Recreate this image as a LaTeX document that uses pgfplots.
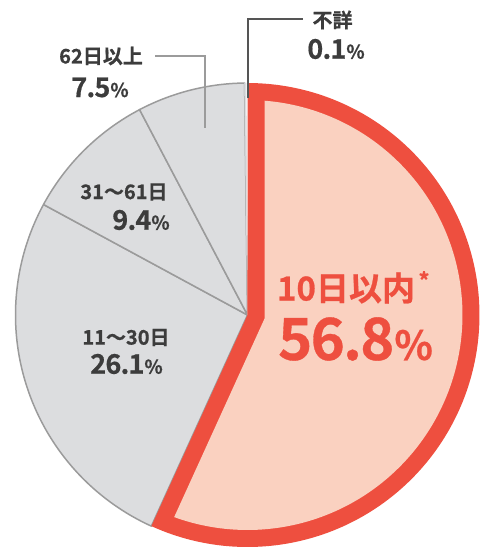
\documentclass[border=0pt]{standalone}
\usepackage{pgfplots}
\pgfplotsset{compat=1.18}
\usepackage{pgfplotstable}
\usepgfplotslibrary{polar}
\usepackage{fontspec}
\setmainfont{Noto Sans CJK JP}
\newfontfamily\jpb{Noto Sans CJK JP Bold}[FakeBold=0.7]
\newfontfamily\numfont{Noto Sans CJK JP Bold}[LetterSpace=-3,FakeBold=0.6]
\definecolor{redc}{HTML}{EE4F3F}
\definecolor{pinkc}{HTML}{FAD1C0}
\definecolor{grayf}{HTML}{DCDDDF}
\definecolor{grayl}{HTML}{9B9B9B}
\definecolor{txt}{HTML}{3C3C3C}
\definecolor{lead}{HTML}{555555}
\pgfplotstableread{
cat value
d10 56.8
d30 26.1
d61 9.4
d62 7.5
unk 0.1
}\pietable
\begin{document}
\begin{tikzpicture}
\useasboundingbox (0,0) rectangle (481pt,552pt);
\pgfplotstablegetelem{0}{value}\of\pietable\pgfmathsetmacro{\vA}{\pgfplotsretval}
\pgfplotstablegetelem{1}{value}\of\pietable\pgfmathsetmacro{\vB}{\pgfplotsretval}
\pgfplotstablegetelem{2}{value}\of\pietable\pgfmathsetmacro{\vC}{\pgfplotsretval}
\pgfplotstablegetelem{3}{value}\of\pietable\pgfmathsetmacro{\vD}{\pgfplotsretval}
\pgfplotstablegetelem{4}{value}\of\pietable\pgfmathsetmacro{\vE}{\pgfplotsretval}
\pgfmathsetmacro{\aA}{90}
\pgfmathsetmacro{\aB}{\aA-3.6*\vA}
\pgfmathsetmacro{\aC}{\aB-3.6*\vB}
\pgfmathsetmacro{\aD}{\aC-3.6*\vC}
\pgfmathsetmacro{\aE}{\aD-3.6*\vD}
\pgfmathsetmacro{\aF}{\aE-3.6*\vE}
% inner (pink) wedge geometry, red band thickness t
\pgfmathsetmacro{\tb}{0.0733}
\pgfmathsetmacro{\ri}{1-\tb}
\pgfmathsetmacro{\dl}{asin(\tb/\ri)}
\pgfmathsetmacro{\half}{(\aA-\aB)/2}
\pgfmathsetmacro{\apd}{\tb/sin(\half)}
\pgfmathsetmacro{\bis}{(\aA+\aB)/2}
\pgfmathsetmacro{\pA}{\aB+\dl}
\pgfmathsetmacro{\pB}{\aA-\dl}
\begin{polaraxis}[
  at={(247.5pt,237pt)}, anchor=center,
  scale only axis, width=464pt, height=464pt,
  xmin=0, xmax=360, ymin=0, ymax=1,
  hide axis, clip=false]
\addplot[fill=grayf, draw=grayl, line width=1.5pt, line join=round, domain=\aC:\aB, samples=120] {1} -- (axis cs:0,0) -- cycle;
\addplot[fill=grayf, draw=grayl, line width=1.5pt, line join=round, domain=\aD:\aC, samples=60] {1} -- (axis cs:0,0) -- cycle;
\addplot[fill=grayf, draw=grayl, line width=1.5pt, line join=round, domain=\aE:\aD, samples=60] {1} -- (axis cs:0,0) -- cycle;
\addplot[fill=grayf, draw=grayf, line width=0.5pt, domain=\aF:\aE, samples=5] {1} -- (axis cs:0,0) -- cycle;
\addplot[fill=redc, draw=none, domain=\aB:\aA, samples=200] {1} -- (axis cs:0,0) -- cycle;
\addplot[fill=pinkc, draw=none, domain=\pA:\pB, samples=200] {\ri} -- (axis cs:\bis,\apd) -- cycle;
\end{polaraxis}
% leader lines
\draw[lead, line width=1.2pt] (248pt,454pt) -- (248pt,533pt) -- (303pt,533pt);
\draw[grayl, line width=1.2pt] (155pt,496pt) -- (205pt,496pt) -- (205pt,424pt);
% labels
\tikzset{lab/.style={txt, inner sep=0pt, anchor=center, font=\jpb\fontsize{20}{20}\selectfont},
         num/.style={txt, inner sep=0pt, anchor=center, font=\numfont\fontsize{27}{27}\selectfont}}
\newcommand{\pc}{{\fontsize{19}{19}\selectfont\%}}
\node[lab] at (332.5pt,532pt) {不詳};
\node[num] at (336pt,503pt) {0.1\pc};
\node[lab] at (101pt,496pt) {62日以上};
\node[num] at (100pt,464.5pt) {7.5\pc};
\node[lab] at (124pt,360pt) {31～61日};
\node[num] at (141pt,332pt) {9.4\pc};
\node[lab] at (126pt,214.5pt) {11～30日};
\node[num] at (126.5pt,188pt) {26.1\pc};
\node[redc, inner sep=0pt, anchor=center, font=\jpb\fontsize{33}{33}\selectfont] at (346pt,264pt) {10日以内};
\node[redc, inner sep=0pt, anchor=center, font=\jpb\fontsize{22}{22}\selectfont] at (424pt,272pt) {*};
\node[redc, inner sep=0pt, anchor=center, font=\numfont\fontsize{58}{58}\selectfont] at (355.5pt,213pt) {56.8{\fontsize{40}{40}\selectfont\%}};
\end{tikzpicture}
\end{document}
